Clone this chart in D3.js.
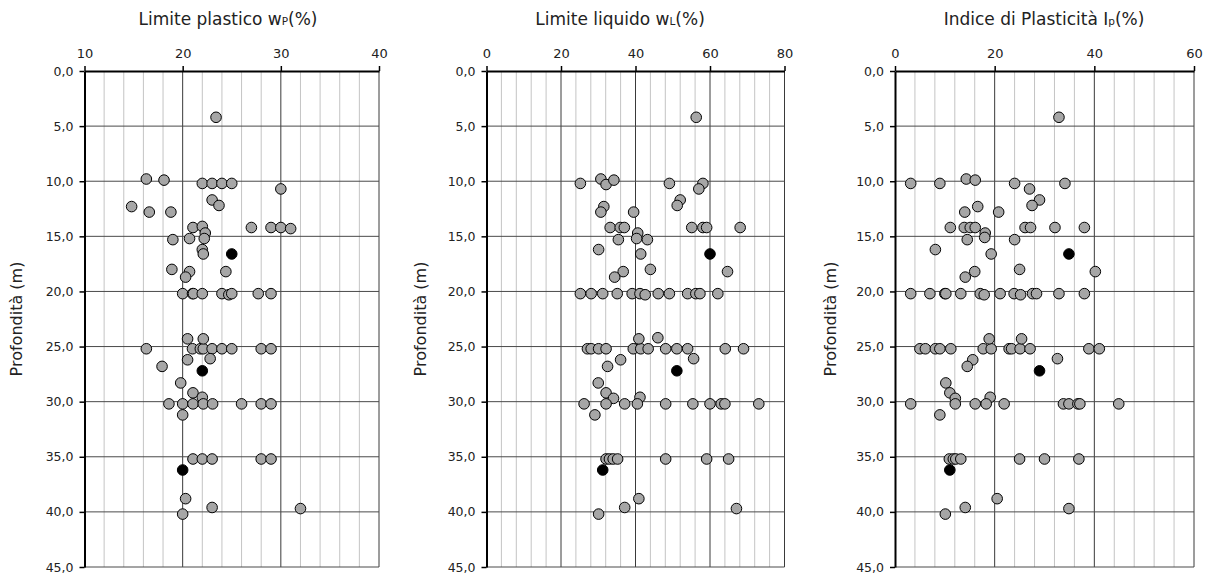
<!DOCTYPE html>
<html><head><meta charset="utf-8">
<script src="https://cdn.jsdelivr.net/npm/d3@7"></script>
<style>
body{margin:0;background:#fff;}
svg text{font-family:"DejaVu Sans","Lato",sans-serif;fill:#222;}
</style></head>
<body><svg id="c" width="1208" height="576"></svg>
<script>
// ---- Data ----
// Panel 1: Limite plastico wP (%)
const wpValues = [23.4,16.3,18.1,22.0,23.0,24.0,25.0,30.0,23.0,23.7,14.8,16.6,18.8,21.05,22.0,22.3,27.0,29.0,30.0,31.0,
  19.0,20.7,22.2,22.0,22.1,18.9,20.7,20.3,24.4,
  20.0,21.0,21.1,22.0,24.0,24.7,25.0,27.7,29.0,
  16.3,21.0,21.8,22.1,23.0,24.0,25.0,28.0,29.0,20.5,22.1,20.5,22.8,17.9,19.8,21.05,22.0,
  18.6,20.0,21.05,22.1,23.05,26.0,28.0,29.0,20.0,
  21.05,22.0,23.0,28.0,29.0,20.3,23.0,32.0,20.0];
const wpDepths = [4.2,9.8,9.9,10.2,10.2,10.2,10.2,10.7,11.7,12.2,12.3,12.8,12.8,14.2,14.1,14.7,14.2,14.2,14.2,14.3,
  15.3,15.2,15.2,16.2,16.6,18.0,18.2,18.7,18.2,
  20.2,20.2,20.2,20.2,20.2,20.3,20.2,20.2,20.2,
  25.2,25.2,25.2,25.2,25.2,25.2,25.2,25.2,25.2,24.3,24.3,26.2,26.1,26.8,28.3,29.2,29.6,
  30.2,30.2,30.2,30.2,30.2,30.2,30.2,30.2,31.2,
  35.2,35.2,35.2,35.2,35.2,38.8,39.6,39.7,40.2];
const wpBlackValues = [25.0,22.0,20.0];
const wpBlackDepths = [16.6,27.2,36.2];

// Panel 2: Limite liquido wL (%)
const wlValues = [56.3,25.2,30.7,32.1,34.2,49.1,58.1,57.0,52.0,51.2,31.5,30.7,39.5,33.2,35.9,37.0,55.1,58.1,59.1,68.1,40.6,
  35.4,40.3,43.2,30.1,41.4,44.0,36.7,34.4,64.7,
  25.2,28.1,31.2,35.1,39.1,41.2,42.6,46.1,49.1,54.0,56.2,57.3,62.1,
  27.1,28.1,30.1,32.1,39.4,41.4,43.4,48.1,51.1,54.0,64.1,69.0,40.9,46.0,36.0,55.6,32.5,30.0,32.1,34.1,41.2,
  26.2,32.1,37.1,40.5,48.1,55.4,60.0,63.0,64.0,73.1,29.1,
  32.1,33.0,34.0,35.2,48.1,59.1,65.0,40.9,37.1,67.1,30.1];
const wlDepths = [4.2,10.2,9.8,10.3,9.9,10.2,10.2,10.7,11.7,12.2,12.3,12.8,12.8,14.2,14.2,14.2,14.2,14.2,14.2,14.2,14.7,
  15.3,15.2,15.3,16.2,16.6,18.0,18.2,18.7,18.2,
  20.2,20.2,20.2,20.2,20.2,20.2,20.3,20.2,20.2,20.2,20.2,20.2,20.2,
  25.2,25.2,25.2,25.2,25.2,25.2,25.2,25.2,25.2,25.2,25.2,25.2,24.3,24.2,26.2,26.1,26.8,28.3,29.2,29.7,29.6,
  30.2,30.2,30.2,30.2,30.2,30.2,30.2,30.2,30.2,30.2,31.2,
  35.2,35.2,35.2,35.2,35.2,35.2,35.2,38.8,39.6,39.7,40.2];
const wlBlackValues = [60.0,51.1,31.2];
const wlBlackDepths = [16.6,27.2,36.2];

// Panel 3: Indice di Plasticità Ip (%)
const ipValues = [32.9,3.15,9.0,14.3,16.1,24.0,34.1,27.0,29.0,27.5,16.6,14.0,20.8,
  11.1,13.9,15.1,16.1,26.1,27.2,32.1,38.0,18.1,
  14.5,18.0,24.0,8.1,19.3,25.0,16.0,14.1,40.2,
  3.15,7.0,10.0,10.2,13.2,17.1,17.9,21.1,23.9,25.2,27.6,28.4,32.9,38.0,
  5.0,6.1,8.1,9.0,11.2,17.7,19.3,22.9,23.4,25.1,27.1,38.9,41.0,18.9,25.4,15.6,32.6,14.5,10.2,11.0,12.1,19.1,
  3.15,12.1,16.1,18.3,21.9,33.8,34.9,36.7,37.1,44.9,9.0,
  10.9,11.7,12.2,13.2,25.0,30.0,36.9,20.5,14.1,34.9,10.1];
const ipDepths = [4.2,10.2,10.2,9.8,9.9,10.2,10.2,10.7,11.7,12.2,12.3,12.8,12.8,
  14.2,14.2,14.2,14.2,14.2,14.2,14.2,14.2,14.7,
  15.3,15.1,15.3,16.2,16.6,18.0,18.2,18.7,18.2,
  20.2,20.2,20.2,20.2,20.2,20.2,20.3,20.2,20.2,20.3,20.2,20.2,20.2,20.2,
  25.2,25.2,25.2,25.2,25.2,25.2,25.2,25.2,25.2,25.2,25.2,25.2,25.2,24.3,24.3,26.2,26.1,26.8,28.3,29.2,29.7,29.6,
  30.2,30.2,30.2,30.2,30.2,30.2,30.2,30.2,30.2,30.2,31.2,
  35.2,35.2,35.2,35.2,35.2,35.2,35.2,38.8,39.6,39.7,40.2];
const ipBlackValues = [34.9,29.0,11.0];
const ipBlackDepths = [16.6,27.2,36.2];

const depthTicks = [0,5,10,15,20,25,30,35,40,45];
const depthTickLabels = ["0,0","5,0","10,0","15,0","20,0","25,0","30,0","35,0","40,0","45,0"];
const yTitle = "Profondità (m)";

const panels = [
  {title:["Limite plastico w","P","(%)"], domain:[10,40], major:[10,20,30,40], minorStep:2,
   x0:84.5, x1:379, titleX:228, yTitleX:22, vals:wpValues, deps:wpDepths, bv:wpBlackValues, bd:wpBlackDepths},
  {title:["Limite liquido w","L","(%)"], domain:[0,80], major:[0,20,40,60,80], minorStep:4,
   x0:486.5, x1:784.5, titleX:620, yTitleX:426, vals:wlValues, deps:wlDepths, bv:wlBlackValues, bd:wlBlackDepths},
  {title:["Indice di Plasticità I","p","(%)"], domain:[0,60], major:[0,20,40,60], minorStep:4,
   x0:895, x1:1194, titleX:1044, yTitleX:836, vals:ipValues, deps:ipDepths, bv:ipBlackValues, bd:ipBlackDepths}
];

const svg = d3.select("#c");
const yTop = 71, yBot = 567;
const y = d3.scaleLinear().domain([0,45]).range([yTop,yBot]);

panels.forEach(p => {
  const x = d3.scaleLinear().domain(p.domain).range([p.x0,p.x1]);
  const g = svg.append("g");
  const minor = d3.range(p.domain[0], p.domain[1]+0.001, p.minorStep).filter(v => !p.major.includes(v));
  g.selectAll(".minor").data(minor).join("line")
    .attr("x1", d=>x(d)).attr("x2", d=>x(d)).attr("y1", yTop).attr("y2", yBot)
    .attr("stroke", "#c4c4c4").attr("stroke-width", 1);
  g.selectAll(".major").data(p.major.slice(1)).join("line")
    .attr("x1", d=>x(d)).attr("x2", d=>x(d)).attr("y1", yTop).attr("y2", yBot)
    .attr("stroke", "#3a3a3a").attr("stroke-width", 1);
  g.selectAll(".hg").data(depthTicks.slice(1)).join("line")
    .attr("x1", p.x0).attr("x2", p.x1).attr("y1", d=>y(d)).attr("y2", d=>y(d))
    .attr("stroke", "#4a4a4a").attr("stroke-width", 1);

  const xAxis = d3.axisTop(x).tickValues(p.major).tickSize(5).tickSizeOuter(0).tickPadding(8)
    .tickFormat(d3.format("d"));
  const ax = g.append("g").attr("transform", `translate(0,${yTop})`).call(xAxis);
  ax.select(".domain").attr("stroke","#000").attr("stroke-width",2);
  ax.selectAll(".tick line").attr("stroke","#000").attr("stroke-width",1.5);
  ax.selectAll("text").attr("font-size",13).attr("fill","#222").attr("font-family",'"DejaVu Sans",sans-serif');

  const yAxis = d3.axisLeft(y).tickValues(depthTicks).tickSize(5).tickSizeOuter(0).tickPadding(6)
    .tickFormat((d,i)=>depthTickLabels[i]);
  const ay = g.append("g").attr("transform", `translate(${p.x0},0)`).call(yAxis);
  ay.select(".domain").attr("stroke","#000").attr("stroke-width",2);
  ay.selectAll(".tick line").attr("stroke","#000").attr("stroke-width",1.5);
  ay.selectAll("text").attr("font-size",12.5).attr("fill","#222").attr("font-family",'"DejaVu Sans",sans-serif');

  const t = svg.append("text").attr("x", p.titleX).attr("y", 25).attr("text-anchor","middle")
    .attr("font-size", 17);
  t.append("tspan").text(p.title[0]);
  t.append("tspan").attr("font-size", 10.5).text(p.title[1]);
  t.append("tspan").text(p.title[2]);

  svg.append("text").attr("transform", `translate(${p.yTitleX},${(yTop+yBot)/2}) rotate(-90)`)
    .attr("text-anchor","middle").attr("font-size",16).text(yTitle);

  const pts = p.vals.map((v,i)=>({v, d:p.deps[i]}));
  g.selectAll(".pt").data(pts).join("circle")
    .attr("cx", d=>x(d.v)).attr("cy", d=>y(d.d)).attr("r", 5.3)
    .attr("fill", "#a6a6a6").attr("stroke", "#000").attr("stroke-width", 1);
  const bpts = p.bv.map((v,i)=>({v, d:p.bd[i]}));
  g.selectAll(".bpt").data(bpts).join("circle")
    .attr("cx", d=>x(d.v)).attr("cy", d=>y(d.d)).attr("r", 5.3)
    .attr("fill", "#000").attr("stroke", "#000").attr("stroke-width", 1);
});
</script></body></html>
